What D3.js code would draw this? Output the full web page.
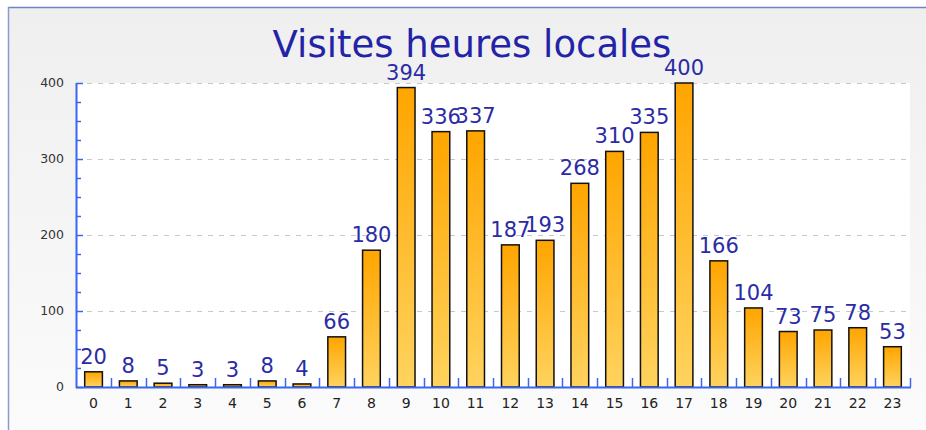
<!DOCTYPE html>
<html><head><meta charset="utf-8">
<script src="https://cdn.jsdelivr.net/npm/d3@7"></script>
<style>html,body{margin:0;padding:0;background:#fff;}svg{display:block;}</style>
</head><body>
<script>
const title = "Visites heures locales";
const hours = ["0","1","2","3","4","5","6","7","8","9","10","11","12","13","14","15","16","17","18","19","20","21","22","23"];
const visits = [20,8,5,3,3,8,4,66,180,394,336,337,187,193,268,310,335,400,166,104,73,75,78,53];
const yTicks = [0,100,200,300,400];
const yMinorTicks = d3.range(0, 401, 25);

const W = 926, H = 430;
const svg = d3.select("body").append("svg").attr("width", W).attr("height", H);
const defs = svg.append("defs");
const bg = defs.append("linearGradient").attr("id","bg").attr("x1",0).attr("y1",0).attr("x2",0).attr("y2",1);
bg.append("stop").attr("offset","0%").attr("stop-color","#efefef");
bg.append("stop").attr("offset","100%").attr("stop-color","#fbfbfb");
const bar = defs.append("linearGradient").attr("id","bar").attr("x1",0).attr("y1",0).attr("x2",0).attr("y2",1);
bar.append("stop").attr("offset","0%").attr("stop-color","#ffa500");
bar.append("stop").attr("offset","100%").attr("stop-color","#ffd35e");

// frame
svg.append("rect").attr("x",8).attr("y",7).attr("width",W-8).attr("height",H-7).attr("fill","url(#bg)");
svg.append("line").attr("x1",8).attr("x2",W).attr("y1",7.5).attr("y2",7.5).attr("stroke","#6f84c4").attr("stroke-width",1.5);
svg.append("line").attr("x1",8.5).attr("x2",8.5).attr("y1",7).attr("y2",H).attr("stroke","#8a9ad0").attr("stroke-width",1.5);

const m = {left:76, right:910, top:83, bottom:387};
const x = d3.scaleBand().domain(hours).range([m.left, m.right]).paddingInner(0.49).paddingOuter(0.25);
const y = d3.scaleLinear().domain([0,400]).range([m.bottom, m.top]);

// plot background
svg.append("rect").attr("x",m.left).attr("y",m.top).attr("width",m.right-m.left).attr("height",m.bottom-m.top).attr("fill","#ffffff");

// gridlines
svg.append("g").selectAll("line").data(yTicks.filter(d=>d>0)).join("line")
  .attr("x1",m.left).attr("x2",m.right).attr("y1",d=>Math.round(y(d))+0.5).attr("y2",d=>Math.round(y(d))+0.5)
  .attr("stroke","#c8c8c8").attr("stroke-dasharray","5,6").attr("stroke-width",1);

// bars
svg.append("g").selectAll("rect").data(visits).join("rect")
  .attr("x",(d,i)=>x(hours[i]))
  .attr("y",d=>y(d))
  .attr("width",x.bandwidth())
  .attr("height",d=>y(0)-y(d))
  .attr("fill","url(#bar)").attr("stroke","#111").attr("stroke-width",1.5);

// value labels
svg.append("g").selectAll("text").data(visits).join("text")
  .attr("x",(d,i)=>x(hours[i])+x.bandwidth()/2)
  .attr("y",d=>y(d)-8)
  .attr("text-anchor","middle")
  .attr("font-family","DejaVu Sans").attr("font-size",21).attr("fill","#2b2ba6")
  .text(d=>d);

// y axis
const yAx = svg.append("g");
yAx.append("line").attr("x1",m.left+0.5).attr("x2",m.left+0.5).attr("y1",m.top).attr("y2",m.bottom+1).attr("stroke","#3a66f0").attr("stroke-width",2);
yAx.selectAll("line.minor").data(yMinorTicks).join("line").attr("class","minor")
  .attr("x1",m.left).attr("x2",d=>m.left+(d%100===0?7:5))
  .attr("y1",d=>Math.round(y(d))+0.5).attr("y2",d=>Math.round(y(d))+0.5)
  .attr("stroke","#3a66f0").attr("stroke-width",1.5);
yAx.selectAll("text").data(yTicks).join("text")
  .attr("x",64).attr("y",d=>y(d)+4)
  .attr("text-anchor","end").attr("font-family","DejaVu Sans").attr("font-size",12.5).attr("fill","#333")
  .text(d=>d);

// x axis
const xAx = svg.append("g");
xAx.append("line").attr("x1",m.left).attr("x2",m.right+1).attr("y1",m.bottom+0.5).attr("y2",m.bottom+0.5).attr("stroke","#3a66f0").attr("stroke-width",2);
const step = x.step();
const bounds = hours.map((h,i)=>x(h)+x.bandwidth()/2+step/2);
xAx.selectAll("line.t").data(bounds).join("line").attr("class","t")
  .attr("x1",d=>Math.round(d)+0.5).attr("x2",d=>Math.round(d)+0.5).attr("y1",m.bottom).attr("y2",m.bottom-9)
  .attr("stroke","#3a66f0").attr("stroke-width",1.5);
xAx.selectAll("text").data(hours).join("text")
  .attr("x",d=>x(d)+x.bandwidth()/2).attr("y",m.bottom+21)
  .attr("text-anchor","middle").attr("font-family","DejaVu Sans").attr("font-size",14).attr("fill","#222")
  .text(d=>d);

// title
svg.append("text").attr("x",472).attr("y",57).attr("text-anchor","middle")
  .attr("font-family","DejaVu Sans").attr("font-size",37).attr("fill","#2323a8")
  .text(title);
</script>
</body></html>
